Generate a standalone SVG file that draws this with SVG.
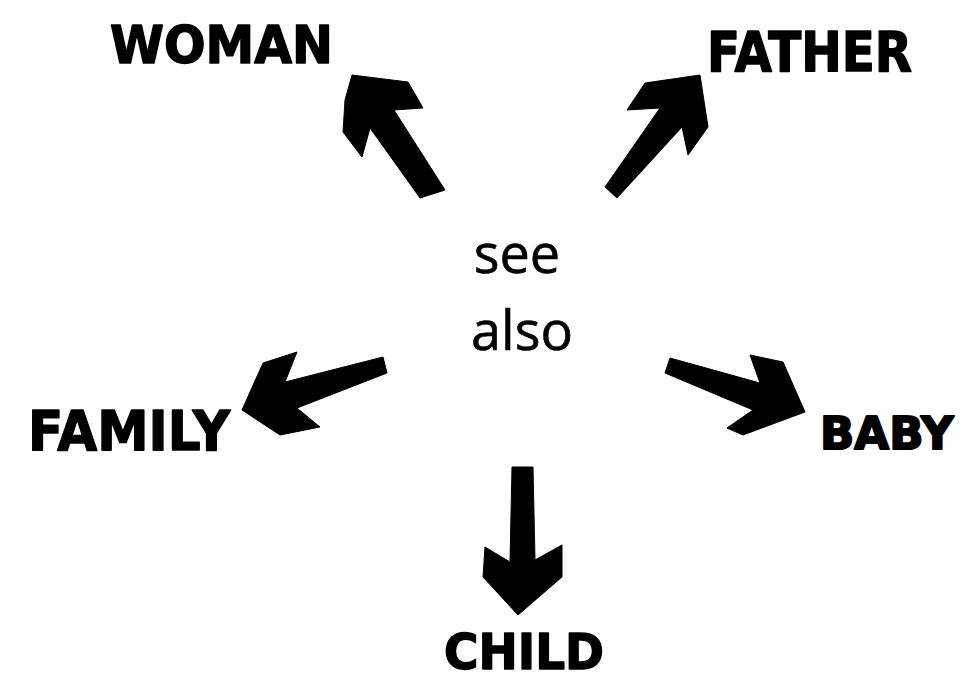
<svg xmlns="http://www.w3.org/2000/svg" width="965" height="682" viewBox="0 0 965 682">
<style>
.lbl{font-family:"DejaVu Sans","Liberation Sans",sans-serif;font-weight:bold;fill:#000;stroke:#000;stroke-width:1.5;stroke-linejoin:round}
.ctr{font-family:"Open Sans","Noto Sans",sans-serif;font-size:54px;fill:#000;stroke:#000;stroke-width:0.6;text-anchor:middle}
.arr{fill:#000;stroke:#000;stroke-width:1;stroke-linejoin:round}
</style>
<rect width="965" height="682" fill="#fff"/>
<g id="center"><text class="ctr" x="517" y="273">see</text><text class="ctr" x="522" y="350">also</text></g>
<g id="woman"><text class="lbl" x="110" y="63" font-size="52" textLength="223" lengthAdjust="spacingAndGlyphs">WOMAN</text></g>
<g id="father"><text class="lbl" x="707" y="71" font-size="56" textLength="205" lengthAdjust="spacingAndGlyphs">FATHER</text></g>
<g id="family"><text class="lbl" x="28" y="450" font-size="55" textLength="202" lengthAdjust="spacingAndGlyphs">FAMILY</text></g>
<g id="baby"><text class="lbl" x="820" y="449" font-size="45" style="stroke-width:2">BABY</text></g>
<g id="child"><text class="lbl" x="444" y="669" font-size="50" textLength="160" lengthAdjust="spacingAndGlyphs">CHILD</text></g>
<g id="connectors">
<polygon class="arr" points="352,75 408,82 423,108 394,110 445,190 420,198 370,128 362,157 343,132 345,100"/>
<polygon class="arr" points="605,187 660,108 627,110 645,83 700,75 708,127 688,155 682,127 617,198"/>
<polygon class="arr" points="242,410 263,363 297,352 285,382 383,357 387,373 297,408 320,427 280,435"/>
<polygon class="arr" points="670,358 760,383 750,355 783,362 805,412 743,435 727,428 753,410 665,373"/>
<polygon class="arr" points="512,467 533,467 535,560 562,545 562,577 518,615 483,577 485,547 510,562"/>
</g>
</svg>
